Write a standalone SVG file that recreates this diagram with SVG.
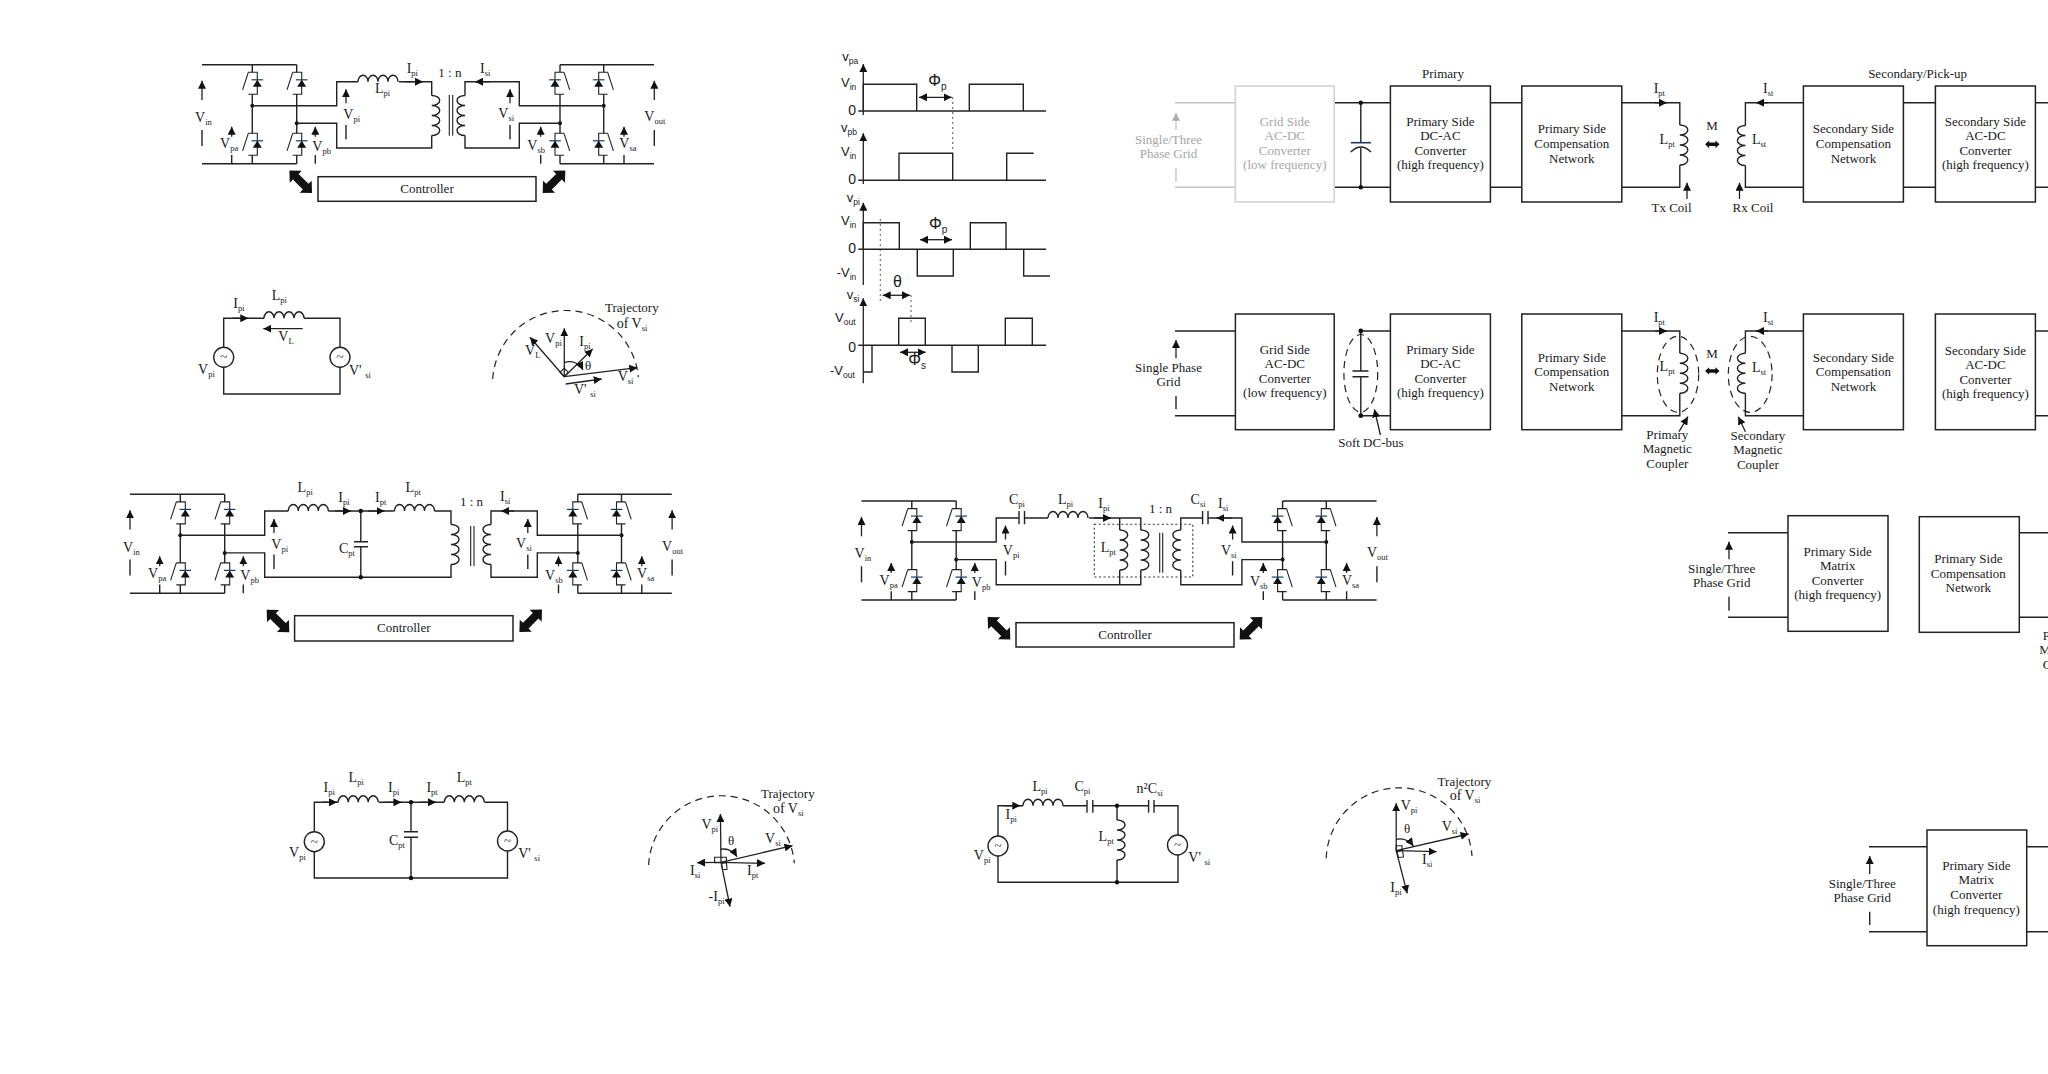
<svg xmlns="http://www.w3.org/2000/svg" width="2048" height="1074" viewBox="0 0 2048 1074">
<style>
text{font-family:"Liberation Serif","Times New Roman",serif;font-size:13px;fill:#1a1a1a}
text:has(>.b){font-size:14px}
.m{text-anchor:middle}
.ss text,.ss text:has(>.b){font-family:"Liberation Sans",Arial,sans-serif;font-size:13px}
.g{fill:#a6a6a6}
.b{font-size:8.5px}
.w{fill:none;stroke:#222;stroke-width:1.4}
.w2{fill:none;stroke:#222;stroke-width:1.1}
.gw{fill:none;stroke:#c4c4c4;stroke-width:1.4}
.box{fill:#fff;stroke:#222;stroke-width:1.5}
.gbox{fill:#fff;stroke:#d0d0d0;stroke-width:1.5}
.ar{fill:none;stroke:#222;stroke-width:1.3;marker-end:url(#a)}
.da{fill:none;stroke:#222;stroke-width:1.3;marker-start:url(#a);marker-end:url(#a)}
.dash{fill:none;stroke:#222;stroke-width:1.2;stroke-dasharray:7 5}
.dot{fill:none;stroke:#333;stroke-width:1.1;stroke-dasharray:1.5 3.5}
.n{fill:#111}
.src{fill:#fff;stroke:#222;stroke-width:1.4}
</style>
<defs>
<marker id="a" markerUnits="userSpaceOnUse" markerWidth="9" markerHeight="8" refX="8" refY="4" orient="auto-start-reverse"><path d="M0 0L8 4L0 8Z" fill="#111"/></marker>
<marker id="ga" markerUnits="userSpaceOnUse" markerWidth="9" markerHeight="8" refX="8" refY="4" orient="auto"><path d="M0 0L8 4L0 8Z" fill="#b0b0b0"/></marker>
<path id="ind" class="w" d="M0 0a5 6.5 0 0 1 10 0a5 6.5 0 0 1 10 0a5 6.5 0 0 1 10 0a5 6.5 0 0 1 10 0"/>
<path id="coil" class="w" d="M0 0a8 5 0 0 1 0 10a8 5 0 0 1 0 10a8 5 0 0 1 0 10a8 5 0 0 1 0 10"/>
<polygon id="dbl" points="-16,0 -7,-8.5 -7,-4 7,-4 7,-8.5 16,0 7,8.5 7,4 -7,4 -7,8.5" fill="#111"/>
<g id="sw">
<path class="w2" d="M-4 0H5V22H-4M-4 0L-9.7 17.5"/>
<path d="M5 7.5L9.5 14.5H.5Z" fill="#111"/>
<path d="M-.8 7.5H10.8" fill="none" stroke="#1c3a5e" stroke-width="1.2"/>
</g>
<g id="bridgeL">
<path class="w" d="M202 64.7H296.7M202 163.7H296.7M252.3 64.7V72.3M252.3 94.3V133.3M252.3 155.3V163.7M296.7 64.7V72.3M296.7 94.3V133.3M296.7 155.3V163.7"/>
<use href="#sw" x="252.3" y="72.3"/><use href="#sw" x="296.7" y="72.3"/><use href="#sw" x="252.3" y="133.3"/><use href="#sw" x="296.7" y="133.3"/>
<circle class="n" cx="252.3" cy="105.7" r="2"/><circle class="n" cx="296.7" cy="123.3" r="2"/>
<path class="ar" d="M202 100V80.7"/><path class="ar" d="M231.7 136.7V126.7"/><path class="ar" d="M315.3 136.7V126.7"/><path class="ar" d="M346 103.3V89.3"/>
<path class="w" d="M202 130V146M231.7 155V163.7M315.3 155V163.7M346 125V139.3"/>
</g>
<g id="bridgeR">
<path class="w" d="M560 64.7H654M560 163.7H654M560 64.7V72.3M560 94.3V133.3M560 155.3V163.7M603.7 64.7V72.3M603.7 94.3V133.3M603.7 155.3V163.7"/>
<use href="#sw" transform="translate(560 72.3) scale(-1 1)"/><use href="#sw" transform="translate(603.7 72.3) scale(-1 1)"/><use href="#sw" transform="translate(560 133.3) scale(-1 1)"/><use href="#sw" transform="translate(603.7 133.3) scale(-1 1)"/>
<circle class="n" cx="603.7" cy="105.7" r="2"/><circle class="n" cx="560" cy="123.3" r="2"/>
<path class="ar" d="M654.3 100V80.7"/><path class="ar" d="M624 136.7V126.7"/><path class="ar" d="M540.7 136.7V126.7"/><path class="ar" d="M510 103.3V89.3"/>
<path class="w" d="M654.3 130V146M624 155V163.7M540.7 155V163.7M510 125V139.3"/>
</g>
</defs>

<g id="panel-a">
<g id="a-bridge-left"><use href="#bridgeL"/></g>
<g id="a-bridge-right"><use href="#bridgeR"/></g>
<g id="a-connectors">
<path class="w" d="M252.3 105.7H336.7V81.7H358M399 81.7H431.7V95.5M431.7 135.5V148H336.7V123.3H296.7M603.7 105.7H519.3V81.7H465V95.5M465 135.5V148H519.3V123.3H560"/>
<use href="#ind" x="358" y="81.7"/>
<use href="#coil" x="431.7" y="95.5"/>
<use href="#coil" transform="translate(465 95.5) scale(-1 1)"/>
<path class="w2" d="M449.3 95V135.7M452.7 95V135.7"/>
<path class="ar" d="M405 81.7H423"/><path class="ar" d="M490 81.7H475"/>
</g>
<g id="a-labels">
<text x="195" y="122">V<tspan class="b" dy="3">in</tspan></text>
<text x="220" y="148.3">V<tspan class="b" dy="3">pa</tspan></text>
<text x="312.3" y="150.7">V<tspan class="b" dy="3">pb</tspan></text>
<text x="343.3" y="119">V<tspan class="b" dy="3">pi</tspan></text>
<text x="498.3" y="118.3">V<tspan class="b" dy="3">si</tspan></text>
<text x="527.3" y="150">V<tspan class="b" dy="3">sb</tspan></text>
<text x="619.3" y="148.3">V<tspan class="b" dy="3">sa</tspan></text>
<text x="644.3" y="121">V<tspan class="b" dy="3">out</tspan></text>
<text x="406.7" y="73.3">I<tspan class="b" dy="3">pi</tspan></text>
<text x="375" y="93.3">L<tspan class="b" dy="3">pi</tspan></text>
<text x="438.3" y="76.7">1 : n</text>
<text x="480" y="73.3">I<tspan class="b" dy="3">si</tspan></text>
</g>
<g id="a-controller"><rect class="box" x="318" y="176.7" width="218" height="24.6"/><text class="m" x="427" y="192.5">Controller</text></g>
<use href="#dbl" transform="translate(300.7 181.7) rotate(45)"/>
<use href="#dbl" transform="translate(554 181.7) rotate(-45)"/>
</g>

<g id="panel-b">
<g id="b-connectors">
<path class="w" d="M223.7 347.3V318.3H264M304 318.3H340V347.3M340 367.3V394H223.7V367.3"/>
<use href="#ind" x="264" y="318.3"/>
<path class="ar" d="M232 318.3H248.3"/><path class="ar" d="M302.7 328.7H263.3"/>
</g>
<g id="b-vpi"><circle class="src" cx="223.7" cy="357.3" r="10"/><text class="m" x="223.7" y="361">~</text><text x="198" y="374">V<tspan class="b" dy="3">pi</tspan></text></g>
<g id="b-vsi"><circle class="src" cx="340" cy="357.3" r="10"/><text class="m" x="340" y="361">~</text><text x="349" y="375">V' <tspan class="b" dy="3">si</tspan></text></g>
<text x="233.3" y="308.3">I<tspan class="b" dy="3">pi</tspan></text>
<text x="271.7" y="300">L<tspan class="b" dy="3">pi</tspan></text>
<text x="278.3" y="340.7">V<tspan class="b" dy="3">L</tspan></text>
<g id="b-phasor">
<path class="dash" d="M492.7 379A73 73 0 0 1 638.3 377.3"/>
<path class="ar" d="M564.3 376.7V328.3"/><path class="ar" d="M564.3 376.7L530 337.3"/><path class="ar" d="M564.3 376.7L592.7 349"/><path class="ar" d="M564.3 376.7L637.3 367.7"/><path class="ar" d="M565.7 384L601.7 379"/>
<path class="w2" d="M564.3 376.7L560 372.3L564.3 368.3L568.3 372.3Z"/>
<path class="ar" d="M564.3 362.7A15 15 0 0 1 583 370"/>
<text x="525" y="355">V<tspan class="b" dy="3">L</tspan></text>
<text x="545" y="343.3">V<tspan class="b" dy="3">pi</tspan></text>
<text x="579.3" y="345.7">I<tspan class="b" dy="3">pi</tspan></text>
<text x="585" y="370">θ</text>
<text x="617.7" y="380.7">V<tspan class="b" dy="3">si</tspan></text>
<text x="574" y="394.3">V' <tspan class="b" dy="3">si</tspan></text>
<text x="605" y="312.3">Trajectory</text>
<text x="616.7" y="327.7">of V<tspan class="b" dy="3">si</tspan></text>
</g>
</g>

<g id="waveforms" class="ss">
<path class="w" d="M858.3 111H1046M863.3 111V84.3H916.7V111M969.3 111V84.3H1023.3V111"/>
<path class="ar" d="M863.3 115V64"/>
<path class="da" d="M919 97.3H951.7"/>
<path class="dot" d="M952.7 97.3V151.7"/>
<text x="842.3" y="60.7">v<tspan class="b" dy="3">pa</tspan></text>
<text x="841" y="86.7">V<tspan class="b" dy="3">in</tspan></text>
<text x="848.3" y="115" style="font-size:14px">0</text>
<text x="928.3" y="85.7" style="font-size:16px">Φ<tspan class="b" dy="4" style="font-size:10px">p</tspan></text>

<path class="w" d="M858.3 180.3H1046M899 180.3V153.3H952.7V180.3M1006.7 180.3V153.3H1033.7"/>
<path class="ar" d="M863.3 184V133.3"/>
<text x="841" y="131.7">v<tspan class="b" dy="3">pb</tspan></text>
<text x="841" y="155.7">V<tspan class="b" dy="3">in</tspan></text>
<text x="848.3" y="184" style="font-size:14px">0</text>

<path class="w" d="M858.3 249.3H1046M863.3 249.3V222.7H899.3V249.3M917.3 249.3V276H953.3V249.3M970.3 249.3V222.7H1006V249.3M1023.7 249.3V276H1050"/>
<path class="ar" d="M863.3 285V202.7"/>
<path class="da" d="M920 239.7H952"/>
<path class="dot" d="M880.3 219.3V303.3"/>
<text x="846.7" y="201.7">v<tspan class="b" dy="3">pi</tspan></text>
<text x="841" y="225">V<tspan class="b" dy="3">in</tspan></text>
<text x="848.3" y="253.3" style="font-size:14px">0</text>
<text x="836.7" y="276.7">-V<tspan class="b" dy="3">in</tspan></text>
<text x="929" y="229" style="font-size:16px">Φ<tspan class="b" dy="4" style="font-size:10px">p</tspan></text>

<text x="893" y="286.7" style="font-size:16px">θ</text>
<path class="da" d="M882.7 295.3H910"/>
<path class="dot" d="M911 295.3V322.7"/>

<path class="w" d="M858.3 345.3H1046M863.3 372H872V345.3M898.7 345.3V318.3H925.3V345.3M952 345.3V372H978.3V345.3M1005.3 345.3V318.3H1032.3V345.3"/>
<path class="ar" d="M863.3 383.3V298.3"/>
<path class="da" d="M900 352.3H925.7"/>
<text x="846.7" y="299.3">v<tspan class="b" dy="3">si</tspan></text>
<text x="835" y="321.7">V<tspan class="b" dy="3">out</tspan></text>
<text x="848.3" y="352.3" style="font-size:14px">0</text>
<text x="830" y="375">-V<tspan class="b" dy="3">out</tspan></text>
<text x="908.3" y="365" style="font-size:16px">Φ<tspan class="b" dy="4" style="font-size:10px">s</tspan></text>
</g>

<g id="row1">
<g id="r1-connectors">
<path class="gw" d="M1175 102.7H1235.4M1175 187.3H1235.4"/>
<path class="w" d="M1334.2 102.7H1390.4M1334.2 187.3H1390.4M1360.8 102.7V142.7M1360.8 148V187.3M1490.4 102.7H1521.8M1490.4 187.3H1521.8M1621.8 102.7H1679.8V125M1679.8 165V187.3H1621.8M1803.4 102.7H1745.4V125.5M1745.4 165.5V187.3H1803.4M1903.4 102.7H1935.4M1903.4 187.3H1935.4M2035.4 102.7H2048M2035.4 187.3H2048"/>
<path fill="none" stroke="#1c3a5e" stroke-width="1.6" d="M1350.8 142.7H1371"/>
<path class="w" d="M1350.8 152Q1360.8 142 1371 152"/>
<circle class="n" cx="1360.8" cy="102.7" r="2.2"/><circle class="n" cx="1360.8" cy="187.3" r="2.2"/>
<use href="#coil" x="1679.8" y="125"/>
<use href="#coil" transform="translate(1745.4 125.5) scale(-1 1)"/>
<path class="ar" d="M1655 102.7H1667"/><path class="ar" d="M1768 102.7H1756"/><path class="ar" d="M1687 199V182.7"/><path class="ar" d="M1739.5 199V182.7"/>
<use href="#dbl" transform="translate(1712.3 144.3) scale(.45)"/>
<path d="M1176 130V112.7" fill="none" stroke="#c4c4c4" stroke-width="1.3" marker-end="url(#ga)"/>
<path class="gw" d="M1176 168V181.7"/>
</g>
<text class="m g" x="1168.5" y="144">Single/Three</text><text class="m g" x="1168.5" y="157.7">Phase Grid</text>
<g id="r1-grid"><rect class="gbox" x="1235.4" y="86" width="98.8" height="116"/><text class="m g" x="1284.8" y="126">Grid Side</text><text class="m g" x="1284.8" y="140">AC-DC</text><text class="m g" x="1284.8" y="155">Converter</text><text class="m g" x="1284.8" y="169.3">(low frequency)</text></g>
<g id="r1-dcac"><rect class="box" x="1390.4" y="86" width="100" height="116"/><text class="m" x="1440.4" y="126">Primary Side</text><text class="m" x="1440.4" y="140">DC-AC</text><text class="m" x="1440.4" y="155">Converter</text><text class="m" x="1440.4" y="169.3">(high frequency)</text></g>
<g id="r1-pcomp"><rect class="box" x="1521.8" y="86" width="100" height="116"/><text class="m" x="1571.8" y="133.3">Primary Side</text><text class="m" x="1571.8" y="147.7">Compensation</text><text class="m" x="1571.8" y="162.7">Network</text></g>
<g id="r1-scomp"><rect class="box" x="1803.4" y="86" width="100" height="116"/><text class="m" x="1853.4" y="133.3">Secondary Side</text><text class="m" x="1853.4" y="147.7">Compensation</text><text class="m" x="1853.4" y="162.7">Network</text></g>
<g id="r1-sdc"><rect class="box" x="1935.4" y="86" width="100" height="116"/><text class="m" x="1985.4" y="126">Secondary Side</text><text class="m" x="1985.4" y="140">AC-DC</text><text class="m" x="1985.4" y="155">Converter</text><text class="m" x="1985.4" y="169.3">(high frequency)</text></g>
<text class="m" x="1443" y="78">Primary</text>
<text class="m" x="1917.6" y="78">Secondary/Pick-up</text>
<text x="1653.7" y="93.3">I<tspan class="b" dy="3">pt</tspan></text>
<text x="1659.6" y="144.3">L<tspan class="b" dy="3">pt</tspan></text>
<text class="m" x="1712" y="130">M</text>
<text x="1763" y="93.3">I<tspan class="b" dy="3">st</tspan></text>
<text x="1752" y="144.3">L<tspan class="b" dy="3">st</tspan></text>
<text class="m" x="1671.5" y="212">Tx Coil</text>
<text class="m" x="1753" y="212">Rx Coil</text>
</g>

<g id="row2">
<g id="r2-connectors">
<path class="w" d="M1175 331H1235.4M1175 415.7H1235.4M1360.8 331H1390.4M1360.8 415.7H1390.4M1360.8 331V371M1360.8 376.7V415.7M1621.8 331H1679.8V353.3M1679.8 393.3V415.7H1621.8M1803.4 331H1745.4V353.3M1745.4 393.3V415.7H1803.4M2035.4 331H2048M2035.4 415.7H2048M1352.5 371H1368.5M1352.5 376.7H1368.5"/>
<circle class="n" cx="1360.8" cy="331" r="2.4"/><circle class="n" cx="1360.8" cy="415.7" r="2.4"/>
<use href="#coil" x="1679.8" y="353.3"/>
<use href="#coil" transform="translate(1745.4 353.3) scale(-1 1)"/>
<ellipse class="dash" cx="1360.8" cy="373.3" rx="16.9" ry="38.8"/>
<ellipse class="dash" cx="1678" cy="374.3" rx="20.7" ry="38"/>
<ellipse class="dash" cx="1750.2" cy="374.3" rx="21.9" ry="38"/>
<path class="ar" d="M1655 331H1667"/><path class="ar" d="M1768 331H1756"/><path class="ar" d="M1176 358.3V340"/><path class="ar" d="M1380.4 435L1374.4 409.3"/><path class="ar" d="M1679 431.7L1688 416.7"/><path class="ar" d="M1745.4 431.7L1738.3 416.7"/>
<path class="w" d="M1176 396V409.3"/>
<use href="#dbl" transform="translate(1712.3 371) scale(.45)"/>
</g>
<text class="m" x="1168.5" y="372.3">Single Phase</text><text class="m" x="1168.5" y="386">Grid</text>
<g id="r2-grid"><rect class="box" x="1235.4" y="314" width="98.8" height="115.7"/><text class="m" x="1284.8" y="354">Grid Side</text><text class="m" x="1284.8" y="368.3">AC-DC</text><text class="m" x="1284.8" y="383.3">Converter</text><text class="m" x="1284.8" y="397.3">(low frequency)</text></g>
<g id="r2-dcac"><rect class="box" x="1390.4" y="314" width="100" height="115.7"/><text class="m" x="1440.4" y="354">Primary Side</text><text class="m" x="1440.4" y="368.3">DC-AC</text><text class="m" x="1440.4" y="383.3">Converter</text><text class="m" x="1440.4" y="397.3">(high frequency)</text></g>
<g id="r2-pcomp"><rect class="box" x="1521.8" y="314" width="100" height="115.7"/><text class="m" x="1571.8" y="361.7">Primary Side</text><text class="m" x="1571.8" y="376">Compensation</text><text class="m" x="1571.8" y="390.7">Network</text></g>
<g id="r2-scomp"><rect class="box" x="1803.4" y="314" width="100" height="115.7"/><text class="m" x="1853.4" y="361.7">Secondary Side</text><text class="m" x="1853.4" y="376">Compensation</text><text class="m" x="1853.4" y="390.7">Network</text></g>
<g id="r2-sdc"><rect class="box" x="1935.4" y="314" width="100" height="115.7"/><text class="m" x="1985.4" y="355">Secondary Side</text><text class="m" x="1985.4" y="369">AC-DC</text><text class="m" x="1985.4" y="384">Converter</text><text class="m" x="1985.4" y="398">(high frequency)</text></g>
<text class="m" x="1370.9" y="447">Soft DC-bus</text>
<text x="1653.7" y="321.7">I<tspan class="b" dy="3">pt</tspan></text>
<text x="1659.6" y="370.7">L<tspan class="b" dy="3">pt</tspan></text>
<text class="m" x="1712" y="358.3">M</text>
<text x="1763" y="321.7">I<tspan class="b" dy="3">st</tspan></text>
<text x="1752" y="371.7">L<tspan class="b" dy="3">st</tspan></text>
<text class="m" x="1667.3" y="439">Primary</text><text class="m" x="1667.3" y="453.3">Magnetic</text><text class="m" x="1667.3" y="468.3">Coupler</text>
<text class="m" x="1757.9" y="440">Secondary</text><text class="m" x="1757.9" y="454.3">Magnetic</text><text class="m" x="1757.9" y="469">Coupler</text>
</g>

<g id="panel-c">
<g id="c-bridge-left" transform="translate(-72 429.6)"><use href="#bridgeL"/>
<text x="195" y="122">V<tspan class="b" dy="3">in</tspan></text>
<text x="220" y="148.3">V<tspan class="b" dy="3">pa</tspan></text>
<text x="312.3" y="150.7">V<tspan class="b" dy="3">pb</tspan></text>
<text x="343.3" y="119">V<tspan class="b" dy="3">pi</tspan></text>
</g>
<g id="c-bridge-right" transform="translate(17.8 429.6)"><use href="#bridgeR"/>
<text x="498.3" y="118.3">V<tspan class="b" dy="3">si</tspan></text>
<text x="527.3" y="150">V<tspan class="b" dy="3">sb</tspan></text>
<text x="619.3" y="148.3">V<tspan class="b" dy="3">sa</tspan></text>
<text x="644.3" y="121">V<tspan class="b" dy="3">out</tspan></text>
</g>
<g id="c-connectors">
<path class="w" d="M180.3 535.3H264.7V511H288.3M328.3 511H394.5M434.5 511H451V524.5M451 564.5V577.3H264.7V552.9H224.7M621.5 535.3H537.3V511H491V524.5M491 564.5V577.3H537.3V552.9H577.8M360.8 511V541.7M360.8 546.7V577.3M354 541.7H368M354 546.7H368"/>
<use href="#ind" x="288.3" y="511"/><use href="#ind" x="394.5" y="511"/>
<use href="#coil" x="451" y="524.5"/>
<use href="#coil" transform="translate(491 524.5) scale(-1 1)"/>
<path class="w2" d="M470.7 526V566M474 526V566"/>
<circle class="n" cx="360.8" cy="511" r="2.2"/><circle class="n" cx="360.8" cy="577.3" r="2.2"/>
<path class="ar" d="M335 511H351"/><path class="ar" d="M368 511H384.5"/><path class="ar" d="M514 511H501"/>
</g>
<text x="297.6" y="491.7">L<tspan class="b" dy="3">pi</tspan></text>
<text x="338.3" y="501.7">I<tspan class="b" dy="3">pi</tspan></text>
<text x="375" y="501.7">I<tspan class="b" dy="3">pt</tspan></text>
<text x="405.6" y="491.7">L<tspan class="b" dy="3">pt</tspan></text>
<text x="460" y="506">1 : n</text>
<text x="500" y="500.7">I<tspan class="b" dy="3">si</tspan></text>
<text x="339" y="553.3">C<tspan class="b" dy="3">pt</tspan></text>
<g id="c-controller"><rect class="box" x="294.6" y="615.7" width="218.4" height="25.3"/><text class="m" x="403.8" y="631.5">Controller</text></g>
<use href="#dbl" transform="translate(278 621) rotate(45)"/>
<use href="#dbl" transform="translate(530.7 620.7) rotate(-45)"/>
</g>

<g id="panel-d">
<g id="d-bridge-left" transform="translate(659.5 436.3)"><use href="#bridgeL"/>
<text x="195" y="122">V<tspan class="b" dy="3">in</tspan></text>
<text x="220" y="148.3">V<tspan class="b" dy="3">pa</tspan></text>
<text x="312.3" y="150.7">V<tspan class="b" dy="3">pb</tspan></text>
<text x="343.3" y="119">V<tspan class="b" dy="3">pi</tspan></text>
</g>
<g id="d-bridge-right" transform="translate(722.6 436.3)"><use href="#bridgeR"/>
<text x="498.3" y="118.3">V<tspan class="b" dy="3">si</tspan></text>
<text x="527.3" y="150">V<tspan class="b" dy="3">sb</tspan></text>
<text x="619.3" y="148.3">V<tspan class="b" dy="3">sa</tspan></text>
<text x="644.3" y="121">V<tspan class="b" dy="3">out</tspan></text>
</g>
<g id="d-connectors">
<path class="w" d="M911.8 542H996.2V518H1019M1024.5 518H1048M1089 518H1140.8V530M1140.8 570V584.7H996.2V559.6H956.2M1119.7 518V530M1119.7 570V584.7M1326.3 542H1241.9V518H1208M1202.6 518H1180.8V530M1180.8 570V584.7H1241.9V559.6H1282.6M1019 511V524.3M1024.5 511V524.3M1202.6 511V524.3M1208 511V524.3"/>
<use href="#ind" x="1048" y="518"/>
<use href="#coil" x="1119.7" y="530"/><use href="#coil" x="1140.8" y="530"/>
<use href="#coil" transform="translate(1180.8 530) scale(-1 1)"/>
<path class="w2" d="M1159.7 532.7V572.7M1162.7 532.7V572.7"/>
<path class="dot" d="M1094.3 524.3H1192.8V577H1094.3Z" style="stroke-dasharray:2 2.5"/>
<path class="ar" d="M1094 518H1111"/><path class="ar" d="M1232 518H1216.4"/>
</g>
<text x="1008.9" y="504">C<tspan class="b" dy="3">pi</tspan></text>
<text x="1058" y="504">L<tspan class="b" dy="3">pi</tspan></text>
<text x="1098.3" y="508.3">I<tspan class="b" dy="3">pi</tspan></text>
<text x="1149" y="512.7">1 : n</text>
<text x="1190.6" y="504">C<tspan class="b" dy="3">si</tspan></text>
<text x="1218" y="508.3">I<tspan class="b" dy="3">si</tspan></text>
<text x="1100.8" y="551.7">L<tspan class="b" dy="3">pt</tspan></text>
<g id="d-controller"><rect class="box" x="1016" y="622.7" width="218" height="24.3"/><text class="m" x="1125" y="639.3">Controller</text></g>
<use href="#dbl" transform="translate(999 628.3) rotate(45)"/>
<use href="#dbl" transform="translate(1251 628.3) rotate(-45)"/>
</g>

<g id="row3">
<g id="r3-connectors">
<path class="w" d="M1728 532.7H1788M1728 617.3H1788M2019.3 532.7H2048M2019.3 617.3H2048M1729 596.7V610.7"/>
<path class="ar" d="M1729 559.3V541.7"/>
</g>
<text class="m" x="1721.7" y="573.3">Single/Three</text><text class="m" x="1721.7" y="587.3">Phase Grid</text>
<g id="r3-matrix"><rect class="box" x="1788" y="515.7" width="100" height="115.6"/><text class="m" x="1837.7" y="555.7">Primary Side</text><text class="m" x="1837.7" y="570">Matrix</text><text class="m" x="1837.7" y="585">Converter</text><text class="m" x="1837.7" y="598.7">(high frequency)</text></g>
<g id="r3-pcomp"><rect class="box" x="1919.3" y="516.7" width="100" height="115.6"/><text class="m" x="1968.3" y="563.3">Primary Side</text><text class="m" x="1968.3" y="577.7">Compensation</text><text class="m" x="1968.3" y="592">Network</text></g>
<text class="m" x="2063.8" y="640">Primary</text><text class="m" x="2063.8" y="654.3">Magnetic</text><text class="m" x="2063.8" y="669">Coupler</text>
</g>

<g id="panel-e">
<g id="e-connectors">
<path class="w" d="M314.3 832V802.3H338.2M379 802.3H444.3M484.6 802.3H507.5V831M507.5 851V878H314.3V851.7M411 802.3V831.7M411 837.3V878M404 831.7H418M404 837.3H418"/>
<use href="#ind" x="338.2" y="802.3"/><use href="#ind" x="444.3" y="802.3"/>
<circle class="n" cx="411" cy="802.3" r="2.2"/><circle class="n" cx="411" cy="878" r="2.2"/>
<path class="ar" d="M322 802.3H337"/><path class="ar" d="M385 802.3H401.4"/><path class="ar" d="M420 802.3H436"/>
</g>
<g id="e-vpi"><circle class="src" cx="314.3" cy="841.7" r="10"/><text class="m" x="314.3" y="845.5">~</text><text x="289" y="857.3">V<tspan class="b" dy="3">pi</tspan></text></g>
<g id="e-vsi"><circle class="src" cx="507.5" cy="841" r="10"/><text class="m" x="507.5" y="845">~</text><text x="518.2" y="858.3">V' <tspan class="b" dy="3">si</tspan></text></g>
<text x="323.6" y="791.7">I<tspan class="b" dy="3">pi</tspan></text>
<text x="348.6" y="781.7">L<tspan class="b" dy="3">pi</tspan></text>
<text x="388" y="791.7">I<tspan class="b" dy="3">pi</tspan></text>
<text x="426.4" y="791.7">I<tspan class="b" dy="3">pt</tspan></text>
<text x="456.8" y="781.7">L<tspan class="b" dy="3">pt</tspan></text>
<text x="389" y="845">C<tspan class="b" dy="3">pt</tspan></text>
<g id="e-phasor">
<path class="dash" d="M648.6 865A73 73 0 0 1 794.3 863.3"/>
<path class="ar" d="M721 862.3L720.4 814"/><path class="ar" d="M721 862.3L697 862.7"/><path class="ar" d="M721 862.3L765 863.3"/><path class="ar" d="M721 862.3L730 906.7"/><path class="ar" d="M721 862.3L792.5 845.7"/>
<path class="w2" d="M714.6 857.3H726.4V862.7H714.6ZM721.5 863.5L726.5 862.7L727 869.5L722.5 869.5Z"/>
<path class="ar" d="M720.4 849.3A16 16 0 0 1 737 856.7"/>
<text x="701.4" y="829">V<tspan class="b" dy="3">pi</tspan></text>
<text x="728" y="845">θ</text>
<text x="765" y="843.3">V<tspan class="b" dy="3">si</tspan></text>
<text x="690" y="875">I<tspan class="b" dy="3">si</tspan></text>
<text x="747" y="875">I<tspan class="b" dy="3">pt</tspan></text>
<text x="708.6" y="901">-I<tspan class="b" dy="3">pi</tspan></text>
<text x="761" y="798.3">Trajectory</text>
<text x="772.9" y="812.7">of V<tspan class="b" dy="3">si</tspan></text>
</g>
</g>

<g id="panel-f">
<g id="f-connectors">
<path class="w" d="M998 836V805.7H1023M1062.8 805.7H1087M1092.8 805.7H1148.6M1154 805.7H1178V835M1178 855V882.3H998V856M1117 805.7V820M1117 860V882.3M1087 800V812.7M1092.8 800V812.7M1148.6 800V812.7M1154 800V812.7"/>
<use href="#ind" x="1023" y="805.7"/>
<use href="#coil" x="1117" y="820"/>
<circle class="n" cx="1117" cy="805.7" r="2.2"/><circle class="n" cx="1117" cy="882.3" r="2.2"/>
<path class="ar" d="M1004 805.7H1020.3"/>
</g>
<g id="f-vpi"><circle class="src" cx="998" cy="846" r="10"/><text class="m" x="998" y="850">~</text><text x="973.8" y="860">V<tspan class="b" dy="3">pi</tspan></text></g>
<g id="f-vsi"><circle class="src" cx="1177.5" cy="845" r="10"/><text class="m" x="1177.5" y="849">~</text><text x="1188.3" y="861.7">V' <tspan class="b" dy="3">si</tspan></text></g>
<text x="1032.4" y="790.7">L<tspan class="b" dy="3">pi</tspan></text>
<text x="1074.5" y="790.7">C<tspan class="b" dy="3">pi</tspan></text>
<text x="1136.6" y="792.7">n²C<tspan class="b" dy="3">si</tspan></text>
<text x="1005.5" y="819.3">I<tspan class="b" dy="3">pi</tspan></text>
<text x="1098.6" y="841">L<tspan class="b" dy="3">pt</tspan></text>
<g id="f-phasor">
<path class="dash" d="M1326.2 858.3A73 73 0 0 1 1472 856"/>
<path class="ar" d="M1396.2 850.7V803.3"/><path class="ar" d="M1396.2 850.7L1436.6 851.7"/><path class="ar" d="M1396.2 850.7L1468.6 834"/><path class="ar" d="M1396.2 850.7L1407.2 893.3"/>
<path class="w2" d="M1396.2 845.7H1402V850.7H1396.2ZM1397 851.7L1402.5 850.5L1403.5 857L1398.5 857.5Z"/>
<path class="ar" d="M1396.2 839.3A17 17 0 0 1 1413.4 846"/>
<text x="1400.7" y="810">V<tspan class="b" dy="3">pi</tspan></text>
<text x="1404" y="832.7">θ</text>
<text x="1441.7" y="831">V<tspan class="b" dy="3">si</tspan></text>
<text x="1422" y="864.3">I<tspan class="b" dy="3">si</tspan></text>
<text x="1390.3" y="891.7">I<tspan class="b" dy="3">pi</tspan></text>
<text x="1437.6" y="786">Trajectory</text>
<text x="1449.7" y="800">of V<tspan class="b" dy="3">si</tspan></text>
</g>
</g>

<g id="row4">
<g id="r4-connectors">
<path class="w" d="M1869 846.7H1927M1869 931.7H1927M2026.7 846.7H2048M2026.7 931.7H2048M1869.7 911.7V925"/>
<path class="ar" d="M1869.7 874V856"/>
</g>
<text class="m" x="1862.3" y="888.3">Single/Three</text><text class="m" x="1862.3" y="902.3">Phase Grid</text>
<g id="r4-matrix"><rect class="box" x="1927" y="830" width="99.7" height="115.7"/><text class="m" x="1976.3" y="870">Primary Side</text><text class="m" x="1976.3" y="884.3">Matrix</text><text class="m" x="1976.3" y="899.3">Converter</text><text class="m" x="1976.3" y="913.7">(high frequency)</text></g>
</g>
</svg>
